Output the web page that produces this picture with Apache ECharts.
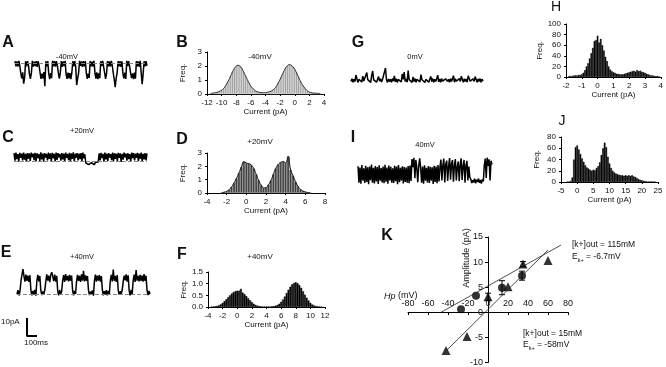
<!DOCTYPE html>
<html>
<head>
<meta charset="utf-8">
<script src="https://cdn.jsdelivr.net/npm/echarts@6/dist/echarts.min.js"></script>
<style>
html,body{margin:0;padding:0;background:#fff;}
#chart{width:666px;height:367px;}
</style>
</head>
<body>
<div id="chart"></div>
<script>
// single channel traces (pA), one value per sample
var traceA = [1,-2,0.8,-2.2,1.1,-1.8, -6,-9,-5.5,-12,-8.5, 0.9,-2.1,1,-1.5, -6.5,-9.2,-5.8,
	1.1,-2.2,0.7,-1.9,1,-2.3,0.9,-1.6, -5.6,-9.3,-6.2,-9,-5.4,-13.5, 0.8,-2,1, -6.1,-9.4,-5.9,-8.8,
	1.2,-2.1,0.9,-2.2,1,-1.7, -5.8,-9.1,-6, 1,-2.3,0.8,-1.9,1.1, -6.3,-9.2,-5.6,-8.9,-6,-9.4,-5.7,
	0.9,-2,1,-2.2, -12.8,-9,-6, 1.1,-1.8,0.8,-2.3,1,-2,0.9, -5.9,-9.3,-6.2,-8.7, 1,-2.1,0.7,-2.2,1.2,
	-6,-9.1,-5.5,-9.4,-6.1,-8.8, 0.9,-1.9,1.1,-2.3, -5.7,-9.2,-6.3, 1,-2,0.8,-2.2,1.1,-1.7,
	-6,-9.5,-14,-8.9,-5.8, 0.9,-2.1,1,-2.3,0.8, -6.2,-9,-5.6,-9.3, 1.1,-1.9,0.9,-2.2,
	-5.9,-8.8,-6.1,-9.4,-5.7,-9.1, 1,-2,0.8,-2.3,1.1, -6,-12.3,-6.2, 0.9,-2.1,1,-1.8];
var traceC = [4.6,0.3,4.9,1.2,4.1,-0.2,4.8,2.0,4.4,0.5,5.0,0.9,4.2,-0.4,4.7,1.5,4.5,0.1,4.9,2.3,
	4.3,0.6,4.8,-0.1,4.6,1.8,4.1,0.2,5.1,1.0,4.4,-0.3,4.7,2.1,4.2,0.4,4.9,1.3,4.5,0.0,
	4.8,1.7,4.3,-0.2,5.0,0.8,4.6,2.2,4.1,0.3,4.7,1.1,4.4,-0.4,4.9,1.9,4.2,0.6,4.8,0.0,
	4.5,1.4,5.1,-0.1,4.3,2.0,4.7,0.5,4.4,1.2,4.6,0.2,4.9,1.6,4.0,
	-1.0,-1.8,-0.6,-2.0,-1.2,-1.9,-0.8,-1.7,-1.3,-2.1,-0.7,-1.6,-1.1,-0.5,
	4.5,0.4,4.8,1.8,4.2,-0.3,4.9,1.1,4.4,0.2,4.7,2.1,4.1,0.6,5.0,-0.2,4.6,1.4,4.3,0.1,
	4.8,1.9,4.5,-0.4,4.2,0.9,4.9,2.2,4.4,0.3,4.7,1.2,4.1,-0.1,5.0,1.7,4.6,0.5,4.3,2.0,
	4.8,0.0,4.4,1.5,4.9,-0.3,4.2,1.0,4.7,0.4,4.5];
var traceE = [0.2,2.3,-0.4,1.8, 7.0,10.2,13.2,9.8,6.8,10.4,7.2,9.9,6.6,10.1, 2.4,-0.3,1.9,0.1,2.5,-0.5,
	7.1,10.3,6.9,9.7, 2.2,-0.2,1.7,0.3,2.4, 6.7,10.5,7.3,9.9,6.5,10.2,11.6,9.6,7.0,10.4,6.8,9.8,
	2.1,-0.4,2.5,0.2,1.8, 7.2,10.1,6.6,10.6,7.4,9.7,6.9,10.3,7.1,9.9, 2.3,-0.3,1.9,0.4,
	6.8,10.2,7.1,9.8,6.6,10.5,7.3,12.4,6.9,10.0,7.2,9.7, 2.4,-0.2,1.6,0.3,2.2,-0.5,
	7.0,10.4,6.7,9.9,7.3,10.1,6.8,9.6, 2.5,-0.3,1.8,0.1,2.3,-0.4,2.0,0.2,
	7.1,10.3,6.9,13.0,7.2,9.8,6.6,10.2, 2.2,-0.1,1.7,0.4,2.4, 6.8,9.9,7.4,10.5,6.7,10.0,
	2.1,-0.3,2.5,0.2, 7.0,10.4,6.6,12.8,7.3,9.7,6.9,10.2,7.1,9.9,6.8,10.6,7.2,9.8, 2.3,-0.2,1.9,0.3];
var traceG = [0.2,1.5,-0.2,1.3,0.1,3.4,1.6,-0.3,1.2,0.3,1.6,-0.1,2.8,0.4,1.4,-0.2,4.6,1.1,0.2,1.5,
	-0.3,3.2,5.4,1.0,0.1,1.6,-0.2,1.3,2.6,0.3,1.5,-0.1,1.2,0.2,1.6,6.9,1.0,-0.3,1.4,0.1,
	1.3,-0.2,1.6,0.3,2.9,0.0,1.5,-0.3,1.2,0.4,1.6,-0.1,3.9,1.2,4.8,0.2,1.4,-0.2,5.6,1.1,
	0.3,1.5,-0.3,2.4,0.1,1.6,-0.2,1.3,0.4,1.5,-0.1,3.6,1.0,0.2,1.6,-0.3,1.2,0.3,1.5,-0.2,
	1.4,2.7,0.1,1.6,-0.3,1.3,0.2,1.5,3.3,0.0,1.4,-0.2,1.6,0.3,1.2,-0.1,1.5,2.5,0.2,1.3,
	-0.3,1.6,0.1,1.4,3.1,-0.2,1.5,0.3,1.2,-0.1,1.6,0.2,2.8,1.3,-0.3,1.5,0.1,1.4,-0.2,3.0,
	1.6,0.3,1.2,-0.1,1.5,0.2,2.6,1.3,-0.3,1.4,0.1,1.6,-0.2,1.3,0.3,1.5];
var traceI = [9.4,2.1,8.8,1.6,9.9,3.0,8.5,1.9,9.6,2.4,8.9,1.4,9.2,3.2,10.1,2.0,8.7,1.7,9.5,2.6,
	9.0,1.5,9.8,2.9,8.6,2.2,9.3,1.8,10.0,2.5,8.8,1.6,9.7,3.1,9.1,2.0,8.5,1.9,9.6,2.7,
	9.2,1.4,9.9,2.3,8.7,3.0,9.4,1.7,9.0,2.4,8.8,2.1,9.5,1.8,9.7,2.8,
	12.6,9.0,13.1,4.0,12.2,8.8,2.3,9.4,12.9,8.6,
	2.0,9.3,1.6,9.8,2.9,8.7,2.2,9.5,1.9,9.1,3.0,8.9,1.5,9.6,2.4,9.2,1.8,9.9,2.6,8.8,
	12.4,3.1,9.6,12.8,2.2,10.2,11.9,2.8,9.3,13.0,3.4,10.5,12.1,2.5,9.8,12.6,3.0,9.1,11.5,2.7,
	10.0,12.9,3.3,9.4,12.2,2.1,9.7,11.8,3.0,9.2,4.5,
	3.6,1.9,3.2,2.2,3.8,1.8,3.4,2.4,3.9,2.0,3.3,1.7,3.5,2.6,
	9.8,12.8,4.2,13.2,9.5,12.5,3.0,11.8,10.2];

// amplitude histograms: first bin centre, bin width, frequencies
var binB0 = -11.5, binBw = 0.25;
var freqB = [0.05,0.06,0.08,0.1,0.14,0.2,0.27,0.38,0.55,0.78,1.02,1.3,1.6,1.82,2.0,2.05,1.98,1.84,1.58,1.32,1.04,0.8,0.56,0.4,0.27,0.19,0.14,0.11,0.1,0.09,0.1,0.12,0.15,0.2,0.28,0.4,0.56,0.8,1.05,1.34,1.62,1.86,2.02,2.1,2.06,1.94,1.76,1.5,1.22,0.95,0.7,0.5,0.34,0.22,0.14,0.1,0.07,0.06,0.05,0.04,0.03];
var binD0 = -2.5, binDw = 0.25;
var freqD = [0.03,0.06,0.12,0.25,0.45,0.75,1.1,1.5,1.95,2.35,2.25,2.2,2.1,1.85,1.4,0.95,0.6,0.38,0.4,0.62,0.95,1.4,1.85,2.15,2.3,2.35,2.25,2.75,1.75,1.3,0.85,0.5,0.28,0.15,0.08,0.04,0.02];
var binF0 = -3.5, binFw = 0.25;
var freqF = [0.01,0.02,0.03,0.05,0.08,0.12,0.18,0.25,0.33,0.42,0.5,0.58,0.64,0.68,0.7,0.7,0.78,0.62,0.55,0.47,0.38,0.29,0.21,0.14,0.09,0.06,0.04,0.03,0.02,0.02,0.02,0.02,0.02,0.03,0.04,0.06,0.09,0.14,0.22,0.32,0.45,0.6,0.74,0.87,0.97,1.03,1.06,1.02,0.94,0.82,0.68,0.53,0.4,0.28,0.18,0.11,0.07,0.04,0.03,0.02,0.01];
var binH0 = -1.8, binHw = 0.1;
var freqH = [2,2,2,3,3,3,4,4,5,8,13,20,26,35,45,55,68,70,78,65,72,60,50,38,30,20,14,11,9,8,6,6,5,5,5,6,7,8,9,10,11,12,10,13,11,12,10,9,8,6,5,4,3,3,2,2,2,1];
var binJ0 = -3, binJw = 0.5;
var freqJ = [0,1,2,8,40,62,65,58,50,42,36,30,26,24,22,20,22,21,25,28,35,48,60,70,62,45,33,25,20,17,15,14,13,12,12,11,12,11,12,11,12,10,9,7,5,4,3,2,2,1,1,1,1,0,0];

// I-V relation (mV, pA)
var ivCircles = [[-27,0.6],[-12,3.3],[14,4.9],[34,7.3]];
var ivCircleErr = [0,0,1.4,0.9];
var ivTriangles = [[-42,-7.6],[-21,-4.8],[0,3.1],[20,5.1],[35,9.6],[60,10.3]];
var ivTriangleErr = [0,0,0.7,0,0.5,0];
var fitSteep = [[-42,-7.7],[60,12.4]];
var fitShallow = [[-47,0],[73,13.4]];

// scale bar
var scalePA = 10, scaleMs = 100;

var FONT = 'Liberation Sans, Arial, sans-serif';
var chart = echarts.init(document.getElementById('chart'), null, {renderer: 'canvas'});

function pairs(b0, w, f) {
	return f.map(function (v, i) { return [b0 + i * w, v]; });
}

var grids = [
	{left: 15, top: 60, width: 132, height: 28},   // A
	{left: 207, top: 52, width: 117, height: 42},  // B
	{left: 14, top: 152, width: 133, height: 13},  // C
	{left: 207, top: 153, width: 118, height: 40}, // D
	{left: 17, top: 269, width: 133, height: 28},  // E
	{left: 208, top: 272, width: 117, height: 35}, // F
	{left: 351, top: 67, width: 133, height: 16},  // G
	{left: 566, top: 24, width: 97, height: 53},   // H
	{left: 358, top: 157, width: 134, height: 33}, // I
	{left: 561, top: 137, width: 97, height: 45},  // J
	{left: 408, top: 237, width: 160, height: 126},// K
	{left: 27, top: 318, width: 10, height: 18}    // scale bar
];

var xAxes = [], yAxes = [], series = [];

function traceAxes(gi, ymin, ymax) {
	xAxes.push({gridIndex: gi, type: 'category', show: false, boundaryGap: false});
	yAxes.push({gridIndex: gi, type: 'value', show: false, min: ymin, max: ymax});
}
function addTrace(gi, data, baseLine) {
	var s = {
		type: 'line', xAxisIndex: gi, yAxisIndex: gi, data: data,
		showSymbol: false, symbol: 'none', lineStyle: {color: '#000', width: 1.5}
	};
	if (baseLine) {
		s.markLine = {silent: true, symbol: 'none', label: {show: false},
			lineStyle: {color: '#888', type: 'dashed', width: 1}, data: [{yAxis: 0}]};
	}
	series.push(s);
}

function histAxes(gi, xmin, xmax, xint, ymax, yint, yfmt) {
	xAxes.push({
		gridIndex: gi, type: 'value', min: xmin, max: xmax, interval: xint,
		axisLine: {onZero: false, lineStyle: {color: '#000', width: 1}},
		axisTick: {show: true, length: 2, lineStyle: {color: '#000'}},
		axisLabel: {color: '#111', fontSize: 8, fontFamily: FONT, margin: 5},
		splitLine: {show: false},
		name: 'Current (pA)', nameLocation: 'middle', nameGap: 13,
		nameTextStyle: {color: '#111', fontSize: 8, fontFamily: FONT}
	});
	yAxes.push({
		gridIndex: gi, type: 'value', min: 0, max: ymax, interval: yint,
		axisLine: {show: true, onZero: false, lineStyle: {color: '#000', width: 1}},
		axisTick: {show: true, length: 2, lineStyle: {color: '#000'}},
		axisLabel: {color: '#111', fontSize: 8, fontFamily: FONT, margin: 5, formatter: yfmt},
		splitLine: {show: false},
		name: 'Freq.', nameLocation: 'middle', nameGap: 20, nameRotate: 90,
		nameTextStyle: {color: '#111', fontSize: 8, fontFamily: FONT}
	});
}
function addHist(gi, data, fill, border, fitColor) {
	series.push({
		type: 'bar', xAxisIndex: gi, yAxisIndex: gi, data: data,
		barCategoryGap: '0%', barGap: '0%',
		itemStyle: {color: fill, borderColor: border, borderWidth: 0.5}
	});
	if (fitColor) {
		series.push({
			type: 'line', xAxisIndex: gi, yAxisIndex: gi, data: data, smooth: true,
			showSymbol: false, symbol: 'none', lineStyle: {color: fitColor, width: 1}
		});
	}
}

// A
traceAxes(0, -14.5, 1.6); addTrace(0, traceA, true);
// B
histAxes(1, -12, 4, 2, 3, 1); addHist(1, pairs(binB0, binBw, freqB), '#8e8e8e', '#d8d8d8', '#222');
// C
traceAxes(2, -2.2, 5.3); addTrace(2, traceC, true);
// D
histAxes(3, -4, 8, 2, 3, 1); addHist(3, pairs(binD0, binDw, freqD), '#3c3c3c', '#8a8a8a', '#111');
// E
traceAxes(4, -1.2, 13.3); addTrace(4, traceE, true);
// F
histAxes(5, -4, 12, 2, 1.5, 0.5, function (v) { return v.toFixed(1); });
addHist(5, pairs(binF0, binFw, freqF), '#000', '#000', null);
// G
traceAxes(6, -0.6, 7.4); addTrace(6, traceG, false);
// H
histAxes(7, -2, 4, 1, 100, 20); addHist(7, pairs(binH0, binHw, freqH), '#000', '#000', null);
// I
traceAxes(8, -1.2, 13.5); addTrace(8, traceI, false);
// J
histAxes(9, -5, 25, 5, 80, 20); addHist(9, pairs(binJ0, binJw, freqJ), '#000', '#000', null);

// K : I-V plot, both axes shifted into the grid so they cross at (0, 0)
xAxes.push({
	gridIndex: 10, type: 'value', min: -80, max: 80, interval: 20, offset: -50.4,
	axisLine: {onZero: false, lineStyle: {color: '#000', width: 1}},
	axisTick: {show: true, length: 3, lineStyle: {color: '#000'}},
	axisLabel: {inside: true, color: '#111', fontSize: 9, fontFamily: FONT, margin: 4},
	splitLine: {show: false}
});
yAxes.push({
	gridIndex: 10, type: 'value', min: -10, max: 15, interval: 5, offset: -80,
	axisLine: {onZero: false, lineStyle: {color: '#000', width: 1}},
	axisTick: {show: true, length: 3, lineStyle: {color: '#000'}},
	axisLabel: {color: '#111', fontSize: 9, fontFamily: FONT, margin: 5},
	splitLine: {show: false}
});
series.push({type: 'line', xAxisIndex: 10, yAxisIndex: 10, data: fitSteep, showSymbol: false, symbol: 'none', lineStyle: {color: '#222', width: 0.8}});
series.push({type: 'line', xAxisIndex: 10, yAxisIndex: 10, data: fitShallow, showSymbol: false, symbol: 'none', lineStyle: {color: '#222', width: 0.8}});

function errorBars(points, errs) {
	var d = [];
	points.forEach(function (p, i) { if (errs[i] > 0) d.push([p[0], p[1] - errs[i], p[1] + errs[i]]); });
	return {
		type: 'custom', xAxisIndex: 10, yAxisIndex: 10, data: d, encode: {x: 0, y: [1, 2]},
		renderItem: function (params, api) {
			var lo = api.coord([api.value(0), api.value(1)]);
			var hi = api.coord([api.value(0), api.value(2)]);
			var st = {stroke: '#000', lineWidth: 1};
			return {type: 'group', children: [
				{type: 'line', shape: {x1: lo[0], y1: lo[1], x2: hi[0], y2: hi[1]}, style: st},
				{type: 'line', shape: {x1: lo[0] - 3, y1: lo[1], x2: lo[0] + 3, y2: lo[1]}, style: st},
				{type: 'line', shape: {x1: hi[0] - 3, y1: hi[1], x2: hi[0] + 3, y2: hi[1]}, style: st}
			]};
		}
	};
}
series.push(errorBars(ivCircles, ivCircleErr));
series.push(errorBars(ivTriangles, ivTriangleErr));
series.push({type: 'scatter', xAxisIndex: 10, yAxisIndex: 10, data: ivCircles, symbol: 'circle', symbolSize: 8, itemStyle: {color: '#000'}});
series.push({type: 'scatter', xAxisIndex: 10, yAxisIndex: 10, data: ivTriangles, symbol: 'triangle', symbolSize: 9, itemStyle: {color: '#000'}});

// scale bar
xAxes.push({gridIndex: 11, type: 'value', show: false, min: 0, max: scaleMs});
yAxes.push({gridIndex: 11, type: 'value', show: false, min: 0, max: scalePA});
series.push({type: 'line', xAxisIndex: 11, yAxisIndex: 11, data: [[0, scalePA], [0, 0], [scaleMs, 0]],
	showSymbol: false, symbol: 'none', lineStyle: {color: '#000', width: 2}});

function txt(s, x, y, size, weight, align, extra) {
	var st = {text: s, fill: '#111', font: (weight || 'normal') + ' ' + size + 'px ' + FONT,
		textAlign: align || 'center', textVerticalAlign: 'middle'};
	if (extra) for (var k in extra) st[k] = extra[k];
	return {type: 'text', x: x, y: y, style: st, silent: true};
}

var graphics = [
	txt('A', 8, 43, 16, 'bold'), txt('B', 182, 43, 16, 'bold'),
	txt('C', 8, 138, 16, 'bold'), txt('D', 182, 140, 16, 'bold'),
	txt('E', 6, 253, 16, 'bold'), txt('F', 182, 255, 16, 'bold'),
	txt('G', 358, 43, 16, 'bold'), txt('H', 556, 7, 14, 'normal'),
	txt('I', 353, 138, 16, 'bold'), txt('J', 562, 121, 14, 'normal'),
	txt('K', 387, 236, 16, 'bold'),
	txt('-40mV', 67, 57, 7.5), txt('+20mV', 82, 131, 7.5), txt('+40mV', 82, 257, 7.5),
	txt('0mV', 415, 57, 7.5), txt('40mV', 425, 145, 7.5),
	txt('-40mV', 260, 57, 8), txt('+20mV', 260, 142, 8), txt('+40mV', 260, 257, 8),
	txt('10pA', 1, 322, 8, 'normal', 'left'), txt('100ms', 36, 343, 8),
	{type: 'text', x: 467, y: 258, rotation: Math.PI / 2, silent: true,
		style: {text: 'Amplitude (pA)', fill: '#111', font: '9px ' + FONT, textAlign: 'center', textVerticalAlign: 'middle'}},
	{type: 'text', x: 384, y: 296, silent: true,
		style: {text: '{i|Hp} (mV)', fill: '#111', font: '9px ' + FONT, textVerticalAlign: 'middle',
			rich: {i: {fontStyle: 'italic', fontSize: 9, fontFamily: FONT}}}},
	txt('[k+]out = 115mM', 572, 245, 8.5, 'normal', 'left'),
	{type: 'text', x: 572, y: 257, silent: true,
		style: {text: 'E{s|k+} = -6.7mV', fill: '#111', font: '8.5px ' + FONT, textVerticalAlign: 'middle',
			rich: {s: {fontSize: 5.5, fontFamily: FONT, verticalAlign: 'bottom', padding: [6, 0, 0, 0]}}}},
	txt('[k+]out = 15mM', 523, 334, 8.5, 'normal', 'left'),
	{type: 'text', x: 523, y: 345, silent: true,
		style: {text: 'E{s|k+} = -58mV', fill: '#111', font: '8.5px ' + FONT, textVerticalAlign: 'middle',
			rich: {s: {fontSize: 5.5, fontFamily: FONT, verticalAlign: 'bottom', padding: [6, 0, 0, 0]}}}}
];

chart.setOption({
	animation: false,
	backgroundColor: '#fff',
	grid: grids,
	xAxis: xAxes,
	yAxis: yAxes,
	series: series,
	graphic: graphics
});
</script>
</body>
</html>
